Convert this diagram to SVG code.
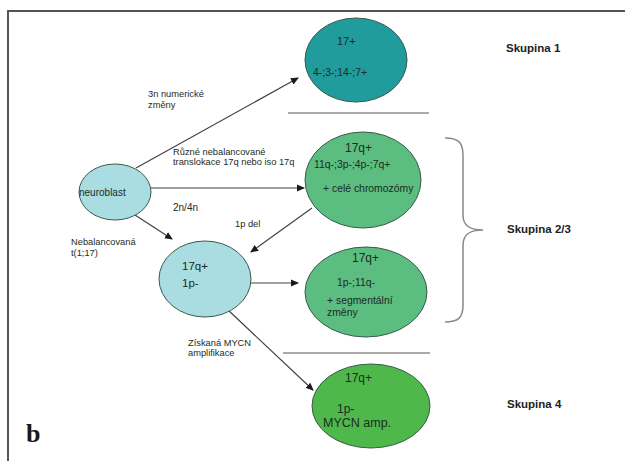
<svg xmlns="http://www.w3.org/2000/svg" width="625" height="461" viewBox="0 0 625 461">
<defs>
<marker id="ah" markerWidth="8" markerHeight="8" refX="7" refY="4" orient="auto" markerUnits="userSpaceOnUse">
<path d="M0,0.5 L8,4 L0,7.5 z" fill="#1a1a1a"/>
</marker>
<style>
.t{font-family:"Liberation Sans",Arial,sans-serif;fill:#1d2b22}
.s{font-size:9.3px}
.w{font-size:10.4px}
.l{font-size:12px}
.g{font-family:"Liberation Sans",Arial,sans-serif;font-weight:bold;font-size:11.5px;fill:#222}
.c{stroke:#4a3f3f;stroke-width:1.2;fill:none;marker-end:url(#ah)}
.e{stroke:#3a5a4a;stroke-width:1}
</style>
</defs>
<rect width="625" height="461" fill="#fff"/>
<path d="M8,461 V11 H625" fill="none" stroke="#555" stroke-width="2"/>
<g id="connectors">
<line class="c" x1="136" y1="168" x2="298" y2="78"/>
<line class="c" x1="150" y1="188" x2="304" y2="188"/>
<line class="c" x1="135" y1="215" x2="172" y2="239"/>
<line class="c" x1="312" y1="208" x2="251" y2="252"/>
<line class="c" x1="250" y1="283" x2="298" y2="283"/>
<line class="c" x1="228" y1="310" x2="313" y2="390"/>
</g>
<g id="separators" stroke="#555" stroke-width="1.2">
<line x1="288" y1="113" x2="429" y2="113"/>
<line x1="283" y1="353" x2="430" y2="353"/>
</g>
<path id="brace" d="M445,138 C458,138 463,142 463,155 V215 C463,226 470,230 483,230 C470,230 463,234 463,245 V305 C463,318 458,322 445,322" fill="none" stroke="#888" stroke-width="1.5"/>
<g id="n1">
<ellipse class="e" cx="356" cy="60" rx="51" ry="42" fill="#1f9c9b"/>
<text class="t" font-size="11" x="337" y="45">17+</text>
<text class="t w" x="313" y="76">4-;3-;14-;7+</text>
</g>
<g id="n2">
<ellipse class="e" cx="363" cy="180" rx="58" ry="48" fill="#5cbd80"/>
<text class="t l" x="345" y="152">17q+</text>
<text class="t w" x="314" y="168">11q-;3p-;4p-;7q+</text>
<text class="t w" x="323" y="192">+ celé chromozómy</text>
</g>
<g id="neuroblast">
<ellipse class="e" cx="115" cy="192" rx="36" ry="28" fill="#a9dde2"/>
<text class="t" font-size="10" x="79" y="196">neuroblast</text>
</g>
<g id="n3">
<ellipse class="e" cx="205" cy="279" rx="46" ry="38" fill="#a9dde2"/>
<text class="t" font-size="11.5" x="182" y="270">17q+</text>
<text class="t" font-size="11.5" x="182" y="287">1p-</text>
</g>
<g id="n4">
<ellipse class="e" cx="366" cy="292" rx="61" ry="45" fill="#5cbd80"/>
<text class="t l" x="352" y="262">17q+</text>
<text class="t w" x="337" y="286">1p-;11q-</text>
<text class="t w" x="327" y="304">+ segmentální</text>
<text class="t w" x="327" y="316">změny</text>
</g>
<g id="n5">
<ellipse class="e" cx="371" cy="406" rx="59" ry="42" fill="#4fb84b"/>
<text class="t l" x="345" y="382">17q+</text>
<text class="t l" x="337" y="413">1p-</text>
<text class="t" font-size="12.5" x="323" y="427">MYCN amp.</text>
</g>
<g id="labels">
<text class="t s" x="148" y="97">3n numerické</text>
<text class="t s" x="148" y="108">změny</text>
<text class="t s" x="173" y="155">Různé nebalancované</text>
<text class="t s" x="173" y="165">translokace 17q nebo iso 17q</text>
<text class="t" font-size="10" x="173" y="211">2n/4n</text>
<text class="t s" x="71" y="245">Nebalancovaná</text>
<text class="t s" x="71" y="256">t(1;17)</text>
<text class="t s" x="235" y="227">1p del</text>
<text class="t s" x="188" y="346">Získaná MYCN</text>
<text class="t s" x="188" y="356">amplifikace</text>
<text class="g" x="506" y="52">Skupina 1</text>
<text class="g" x="507" y="233">Skupina 2/3</text>
<text class="g" x="507" y="408">Skupina 4</text>
<text x="26" y="442" font-family="'Liberation Serif',serif" font-weight="bold" font-size="26" fill="#1a1a1a">b</text>
</g>
</svg>
